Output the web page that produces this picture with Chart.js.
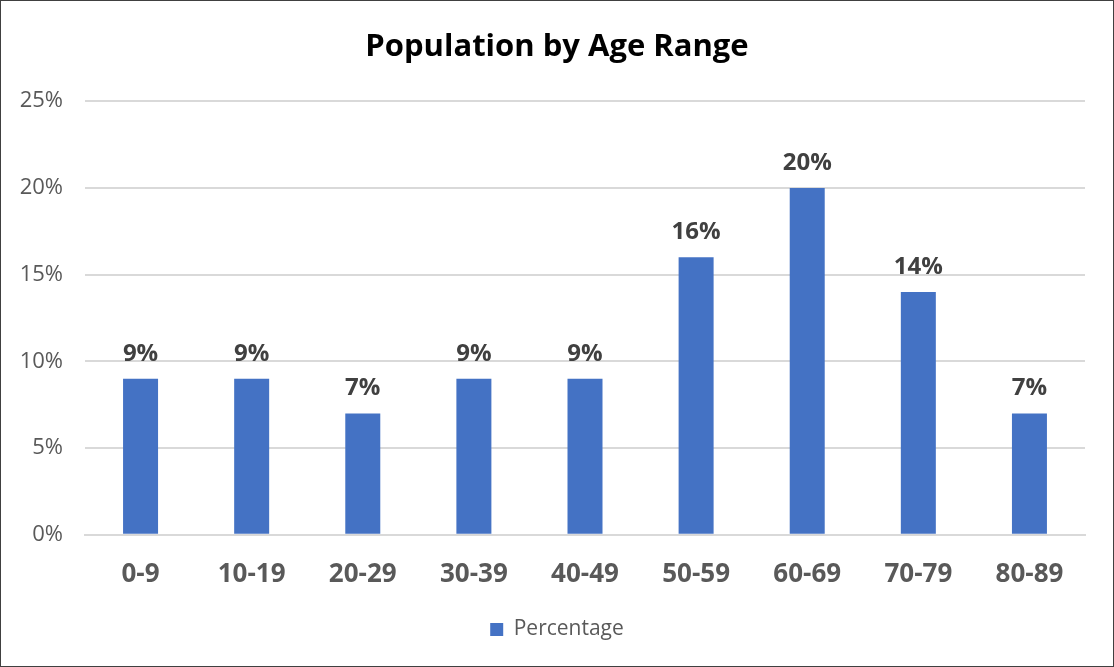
<!DOCTYPE html>
<html>
<head>
<meta charset="utf-8">
<script src="https://cdn.jsdelivr.net/npm/chart.js@4/dist/chart.umd.min.js"></script>
<style>
  html, body { margin: 0; padding: 0; background: #fff; }
  #caixa { width: 1114px; height: 667px; box-sizing: border-box; border: 1px solid #404040; position: relative; }
  #grafico { display: block; }
</style>
</head>
<body>
<div id="caixa"><canvas id="grafico" width="1112" height="665"></canvas></div>
<script>
// Dados
const faixas = ['0-9', '10-19', '20-29', '30-39', '40-49', '50-59', '60-69', '70-79', '80-89'];
const percentuais = [9, 9, 7, 9, 9, 16, 20, 14, 7];
const ticksY = [0, 5, 10, 15, 20, 25];

const fonte = "'Open Sans', 'Liberation Sans', sans-serif";

// Rótulos em cima das barras (não tem o plugin datalabels offline)
const rotulosBarras = {
  id: 'rotulosBarras',
  afterDatasetsDraw(chart) {
    const ctx = chart.ctx;
    const meta = chart.getDatasetMeta(0);
    ctx.save();
    ctx.font = 'bold 24px ' + fonte;
    ctx.fillStyle = '#404040';
    ctx.textAlign = 'center';
    ctx.textBaseline = 'alphabetic';
    meta.data.forEach((bar, i) => {
      ctx.fillText(percentuais[i] + '%', bar.x, bar.y - 18);
    });
    ctx.restore();
  }
};

new Chart(document.getElementById('grafico').getContext('2d'), {
  type: 'bar',
  data: {
    labels: faixas,
    datasets: [{
      label: 'Percentage',
      data: percentuais,
      backgroundColor: '#4472C4',
      borderWidth: 0,
      categoryPercentage: 1,
      barPercentage: 0.315
    }]
  },
  options: {
    responsive: false,
    animation: false,
    layout: { padding: { top: 14, right: 0, bottom: 16, left: 0 } },
    plugins: {
      title: {
        display: true,
        text: 'Population by Age Range',
        color: '#000',
        font: { family: fonte, size: 31, weight: 'bold' },
        padding: { top: 14, bottom: 35 }
      },
      legend: {
        position: 'bottom',
        labels: {
          color: '#595959',
          font: { family: fonte, size: 21 },
          boxWidth: 13,
          boxHeight: 13,
          padding: 12
        }
      },
      tooltip: { enabled: false }
    },
    scales: {
      x: {
        grid: { display: false },
        border: { color: '#d9d9d9', width: 2 },
        ticks: { color: '#595959', font: { family: fonte, size: 26, weight: 'bold' }, padding: 16.5 }
      },
      y: {
        min: 0,
        max: 25,
        afterFit(scale) { scale.width = 84; },
        afterBuildTicks(scale) { scale.ticks = ticksY.map(v => ({ value: v })); },
        grid: { color: '#d9d9d9', lineWidth: 2, drawTicks: false },
        border: { display: false },
        ticks: {
          color: '#595959',
          font: { family: fonte, size: 22 },
          padding: 22,
          callback: v => v + '%'
        }
      },
      // eixo vazio à direita só pra reservar a margem sem descentralizar título/legenda
      margemDireita: {
        position: 'right',
        min: 0,
        max: 25,
        afterFit(scale) { scale.width = 28; },
        grid: { display: false, drawTicks: false },
        border: { display: false },
        ticks: { display: false }
      }
    }
  },
  plugins: [rotulosBarras]
});
</script>
</body>
</html>
